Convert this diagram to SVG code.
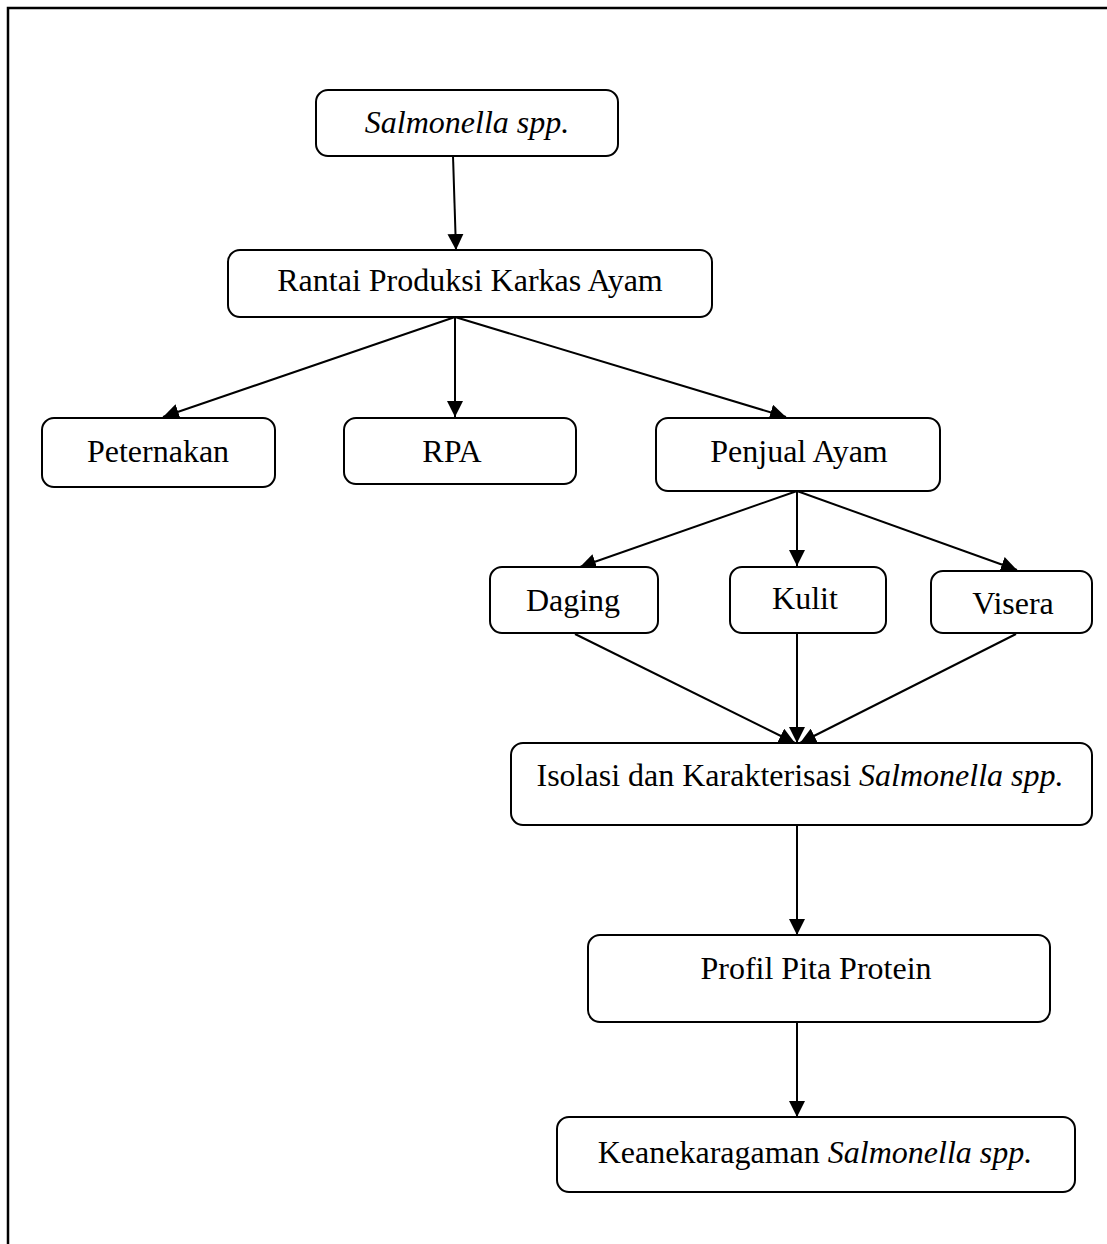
<svg xmlns="http://www.w3.org/2000/svg" width="1107" height="1244" viewBox="0 0 1107 1244">
<style>
.box{fill:#fff;stroke:#000;stroke-width:2}
.t{font-family:"Liberation Serif","Times New Roman",serif;font-size:32px;fill:#000;text-anchor:middle}
.i{font-style:italic}
.c{stroke:#000;stroke-width:2;fill:none;marker-end:url(#ah)}
</style>
<defs>
<marker id="ah" viewBox="0 0 10 10" refX="10" refY="5" markerWidth="8" markerHeight="8" markerUnits="strokeWidth" orient="auto">
<path d="M0,0 L10,5 L0,10 z" fill="#000"/>
</marker>
</defs>
<rect width="1107" height="1244" fill="#fff"/>
<path d="M8,1244 V8 H1107" fill="none" stroke="#000" stroke-width="2.5"/>
<g id="connectors">
<line class="c" x1="453" y1="156" x2="456" y2="250"/>
<line class="c" x1="455" y1="317" x2="163" y2="417"/>
<line class="c" x1="455" y1="317" x2="455" y2="417"/>
<line class="c" x1="455" y1="317" x2="786" y2="417"/>
<line class="c" x1="797" y1="491" x2="580" y2="567"/>
<line class="c" x1="797" y1="491" x2="797" y2="566"/>
<line class="c" x1="797" y1="491" x2="1017" y2="570"/>
<line class="c" x1="575" y1="634" x2="795" y2="743"/>
<line class="c" x1="797" y1="634" x2="797" y2="743"/>
<line class="c" x1="1016" y1="634" x2="800" y2="743"/>
<line class="c" x1="797" y1="825" x2="797" y2="935"/>
<line class="c" x1="797" y1="1008" x2="797" y2="1117"/>
</g>
<g id="n1"><rect class="box" x="316" y="90" width="302" height="66" rx="12"/><text class="t i" x="467" y="133">Salmonella spp.</text></g>
<g id="n2"><rect class="box" x="228" y="250" width="484" height="67" rx="12"/><text class="t" x="470" y="291">Rantai Produksi Karkas Ayam</text></g>
<g id="n3"><rect class="box" x="42" y="418" width="233" height="69" rx="12"/><text class="t" x="158" y="462">Peternakan</text></g>
<g id="n4"><rect class="box" x="344" y="418" width="232" height="66" rx="12"/><text class="t" x="452" y="462">RPA</text></g>
<g id="n5"><rect class="box" x="656" y="418" width="284" height="73" rx="12"/><text class="t" x="799" y="462">Penjual Ayam</text></g>
<g id="n6"><rect class="box" x="490" y="567" width="168" height="66" rx="12"/><text class="t" x="573" y="611">Daging</text></g>
<g id="n7"><rect class="box" x="730" y="567" width="156" height="66" rx="12"/><text class="t" x="805" y="609">Kulit</text></g>
<g id="n8"><rect class="box" x="931" y="571" width="161" height="62" rx="12"/><text class="t" x="1013" y="614">Visera</text></g>
<g id="n9"><rect class="box" x="511" y="743" width="581" height="82" rx="12"/><text class="t" x="800" y="786">Isolasi dan Karakterisasi <tspan class="i">Salmonella spp.</tspan></text></g>
<g id="n10"><rect class="box" x="588" y="935" width="462" height="87" rx="12"/><text class="t" x="816" y="979">Profil Pita Protein</text></g>
<g id="n11"><rect class="box" x="557" y="1117" width="518" height="75" rx="12"/><text class="t" x="815" y="1163">Keanekaragaman <tspan class="i">Salmonella spp.</tspan></text></g>
</svg>
